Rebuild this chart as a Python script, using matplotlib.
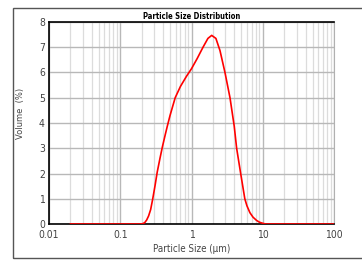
import matplotlib
matplotlib.use("Agg")
import matplotlib.pyplot as plt
from matplotlib.patches import Rectangle
from matplotlib.ticker import FixedLocator, LogLocator, NullFormatter

sizes = [0.02, 0.1, 0.19, 0.205, 0.22, 0.235, 0.25, 0.267, 0.285, 0.307, 0.33, 0.361,
         0.39, 0.425, 0.46, 0.5, 0.59, 0.7, 0.85, 1.0, 1.2, 1.45, 1.7, 1.92, 2.2,
         2.51, 2.95, 3.47, 3.98, 4.3, 4.9, 5.6, 6.0, 6.6, 7.3, 8.2, 9.0, 10.2, 11, 100]
volume = [0, 0, 0, 0.01, 0.05, 0.16, 0.32, 0.57, 0.98, 1.5, 2.05, 2.6,
          3.05, 3.5, 3.9, 4.3, 5.0, 5.45, 5.85, 6.15, 6.55, 7.0, 7.35, 7.47, 7.35,
          6.87, 6.0, 5.0, 3.87, 3.0, 2.0, 1.0, 0.72, 0.45, 0.27, 0.14, 0.07, 0.02, 0, 0]
xticks = [0.01, 0.1, 1, 10, 100]
xticklabels = ["0.01", "0.1", "1", "10", "100"]
yticks = [0, 1, 2, 3, 4, 5, 6, 7, 8]

W, H = 362, 260
fig = plt.figure(figsize=(W / 100, H / 100), dpi=100)
fig.patches.append(Rectangle((13 / W, 2 / H), 1.2, 250 / H, transform=fig.transFigure,
                             fill=False, edgecolor="#555555", linewidth=1.0))

ax = fig.add_axes([49 / W, 36 / H, 285 / W, 202 / H])
ax.plot(sizes, volume, color="#ff0000", linewidth=1.2, zorder=3)
ax.set_xscale("log")
ax.set_xlim(0.01, 100)
ax.set_ylim(0, 8)
ax.xaxis.set_major_locator(FixedLocator(xticks))
ax.set_xticklabels(xticklabels)
ax.xaxis.set_minor_locator(LogLocator(base=10, subs=range(2, 10)))
ax.xaxis.set_minor_formatter(NullFormatter())
ax.set_yticks(yticks)
ax.grid(True, which="major", color="#b8b8b8", linewidth=1.0)
ax.grid(True, which="minor", axis="x", color="#dcdcdc", linewidth=0.9)
ax.tick_params(which="both", length=0)
ax.tick_params(axis="y", pad=3)
ax.tick_params(axis="x", pad=4)
fam = "DejaVu Sans"
for lab in ax.get_xticklabels() + ax.get_yticklabels():
    lab.set_family(fam)
    lab.set_fontstretch("condensed")
    lab.set_fontsize(7.5)
    lab.set_color("#444444")
for side in ("left", "bottom", "top"):
    ax.spines[side].set_color("black")
    ax.spines[side].set_linewidth(1.2)
ax.spines["right"].set_color("#b0b0b0")
ax.set_axisbelow(True)

ax.set_title("Particle Size Distribution", fontsize=5.5, fontweight="bold",
             family=fam, fontstretch="condensed", pad=2)
ax.set_xlabel("Particle Size (μm)", fontsize=7, family=fam, fontstretch="condensed",
              color="#444444", labelpad=3)
fig.text(20 / W, 1 - 113 / H, "Volume  (%)", rotation=90, fontsize=6,
         family=fam, color="#444444", ha="center", va="center")

fig.savefig("out.png", dpi=100)
